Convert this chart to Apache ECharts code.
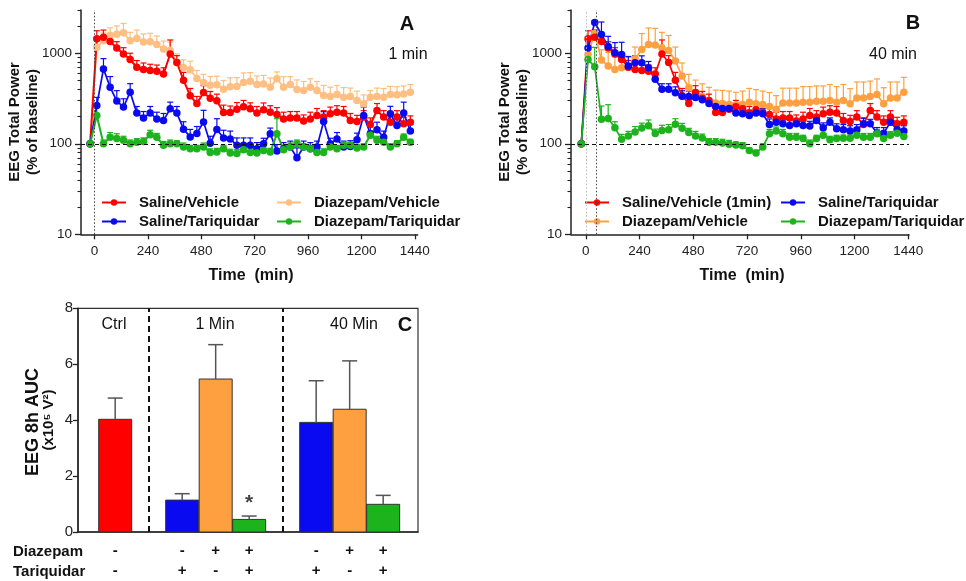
<!DOCTYPE html>
<html><head><meta charset="utf-8">
<script src="https://cdn.jsdelivr.net/npm/echarts@6/dist/echarts.min.js"></script>
<style>html,body{margin:0;padding:0;background:#fff}#c{width:966px;height:581px}</style>
</head><body><div id="c"></div>
<script>
// ---------- DATA ----------
const timeMin = [-20,10,40,70,100,130,160,190,220,250,280,310,340,370,400,430,460,490,520,550,580,610,640,670,700,730,760,790,820,850,880,910,940,970,1000,1030,1060,1090,1120,1150,1180,1210,1240,1270,1300,1330,1360,1390,1420];
const xTickLabels = [0,240,480,720,960,1200,1440];
const yMajorTicks = [10,100,1000];
const yMinorTicks = [20,30,40,50,60,70,80,90,200,300,400,500,600,700,800,900,2000,3000];

// Saline/Vehicle (shared control, panels A and B)
const salVeh = [100, 1440,1500,1350,1140,980,850,700,660,645,630, 590,980,790,504,338,278,368,318,298,222, 221,240,256,243,218,237,223,211,188,192, 192,178,188,205,197,214,223,218,181,176, 197,163,233,197,173,197,166,173];
const salVehErr = [0, 330,300,250,200,170,150,130,120,110,110, 100,420,150,110,70,55,70,60,55,45, 40,45,45,40,40,45,40,40,35,35, 35,30,35,40,35,40,40,40,35,30, 35,30,45,35,30,35,30,30];

// Panel A (1 min)
const dzVehA = [100, 1165,1370,1580,1620,1680,1370,1450,1330,1340,1250, 1110,1080,790,695,655,525,475,443,447,400, 425,428,475,491,451,458,422,521,422,451, 397,387,422,387,341,332,350,327,332,301, 276,327,332,327,350,347,355,371];
const dzVehAErr = [0, 200,300,330,380,450,330,350,300,320,300, 250,250,190,150,160,120,110,110,110,100, 110,110,130,120,110,110,110,100,130,100, 110,100,100,100,100,90,90,90,80,80, 70,60,80,80,80,80,80,80];
const salTarA = [100, 265,671,422,296,254,371,218,192,218,188, 181,243,218,145,119,130,174,101,144,116, 113,96,96,96,88,100,129,83,88,92, 70,92,88,92,176,100,113,92,93,111, 205,129,143,118,214,159,218,138];
const salTarAErr = [0, 60,200,130,90,60,90,40,35,40,35, 35,45,40,30,25,25,60,20,45,25, 25,20,20,20,15,15,20,15,15,15, 20,15,15,15,50,15,20,15,15,20, 50,25,30,20,45,35,70,25];
const dzTarA = [100, 205,100,118,114,109,100,104,106,126,118, 96,100,100,92,88,88,92,80,81,88, 79,78,86,80,79,84,81,129,86,92, 100,92,88,80,80,92,88,96,96,90, 92,124,109,104,92,100,118,104];
const dzTarAErr = [0, 70,10,15,15,12,10,10,10,15,12, 10,10,8,10,8,8,10,8,8,8, 8,8,8,8,8,8,8,60,10,10, 10,8,8,8,8,8,8,8,8,8, 8,15,12,10,8,8,10,8];

// Panel B (40 min)
const salTarB = [100, 1140,2190,1610,1185,1010,970,720,785,785,690, 515,400,400,365,335,332,325,306,278,258, 245,245,218,214,205,218,214,163,173,166, 159,166,159,157,181,150,173,146,143,138, 143,166,166,131,131,173,143,138];
const salTarBErr = [0, 200,100,600,350,300,350,200,150,150,120, 80,60,60,60,50,50,45,45,40,35, 35,35,30,30,30,30,30,25,25,25, 25,20,25,20,25,20,20,20,20,20, 20,25,20,20,20,25,20,20];
const dzVehB = [100, 970,1665,840,720,660,690,700,870,1100,1250, 1230,1150,1070,820,560,415,365,330,300,281, 278,272,270,272,288,276,272,258,240,281, 281,281,288,288,295,295,301,288,301,276, 321,321,332,350,276,321,321,371];
const dzVehBErr = [0, 300,150,250,300,250,200,200,300,550,650, 650,550,500,350,220,170,140,130,120,110, 110,110,100,110,120,120,110,110,100,130, 130,130,140,140,140,140,150,140,150,130, 160,160,160,170,140,160,160,170];
const dzTarB = [100, 850,710,186,190,150,112,122,135,149,158, 130,140,143,164,148,133,122,116,104,104, 102,99,97,95,84,79,92,129,138,129, 118,118,114,100,114,124,111,114,115,115, 124,118,118,129,114,124,131,120];
const dzTarBErr = [0, 100,450,75,80,25,15,15,20,20,25, 15,20,20,25,20,15,15,12,10,10, 10,10,8,8,6,6,8,15,15,15, 12,12,10,10,10,15,10,10,10,10, 12,12,12,15,10,12,15,12];

// Panel C (EEG 8h AUC, x10^5 V^2)
const cGroups = ['Ctrl','1 Min','40 Min'];
const cValues = [4.03, 1.14, 5.47, 0.45, 3.92, 4.39, 0.99];
const cErr = [0.76, 0.23, 1.23, 0.12, 1.49, 1.73, 0.32];
const cDiazepam = ['-','-','+','+','-','+','+'];
const cTariquidar = ['-','+','-','+','+','-','+'];
const cSignificant = [false,false,false,true,false,false,false];

// ---------- STYLE / LAYOUT ----------
const FONT = '"Liberation Sans", Arial, Helvetica, sans-serif';
const RED = '#FF0000', BLUE = '#0A0AF0', GREEN = '#1DB31D', PEACH = '#FFBE82', ORANGE = '#FFA040';
const AX = '#222';
const cPos = [0,2,3,4,6,7,8];           // slot positions of bars
const cColors = [RED, BLUE, ORANGE, GREEN, BLUE, ORANGE, GREEN];

function pairs(vals){ return timeMin.map((t,i)=>[t, vals[i]]); }

function errSeries(xi, yi, vals, errs, color, cap){
  return {
    type:'custom', xAxisIndex:xi, yAxisIndex:yi, silent:true,
    data: timeMin.map((t,i)=>[t, vals[i], vals[i]+errs[i]]),
    renderItem(params, api){
      const x = api.value(0), v = api.value(1), top = api.value(2);
      if (!(top > v)) return null;
      const p0 = api.coord([x, v]), p1 = api.coord([x, top]);
      const st = {stroke: color, lineWidth: 1.2};
      return {type:'group', children:[
        {type:'line', shape:{x1:p0[0], y1:p0[1], x2:p1[0], y2:p1[1]}, style: st},
        {type:'line', shape:{x1:p1[0]-cap, y1:p1[1], x2:p1[0]+cap, y2:p1[1]}, style: st}
      ]};
    }
  };
}
function lineSeries(name, xi, yi, vals, color, extra){
  return Object.assign({
    type:'line', name, xAxisIndex:xi, yAxisIndex:yi, data: pairs(vals),
    symbol:'circle', symbolSize:7.5, showSymbol:true,
    lineStyle:{width:1.7, color}, itemStyle:{color}, emphasis:{disabled:true}
  }, extra || {});
}

const tickFmt = v => String(Math.round(v));
function timeAxis(grid, min, max){
  return {
    gridIndex:grid, type:'value', min, max,
    axisLine:{onZero:false, lineStyle:{color:AX, width:1.5}},
    axisTick:{customValues:xTickLabels, length:5, lineStyle:{color:AX, width:1.3}},
    axisLabel:{customValues:xTickLabels, formatter:tickFmt, fontSize:13.5, color:'#222', fontFamily:FONT, margin:10},
    splitLine:{show:false}
  };
}
function logAxis(grid){
  return {
    gridIndex:grid, type:'log', logBase:10, min:10, max:3000, position:'left',
    axisLine:{onZero:false, lineStyle:{color:AX, width:1.5}},
    axisTick:{customValues:yMajorTicks, length:6, lineStyle:{color:AX, width:1.3}},
    axisLabel:{customValues:yMajorTicks, formatter:tickFmt, fontSize:13.5, color:'#222', fontFamily:FONT, margin:9},
    splitLine:{show:false}
  };
}
function logMinorAxis(grid){
  return {
    gridIndex:grid, type:'log', logBase:10, min:10, max:3000, position:'left', offset:0,
    axisLine:{show:false, onZero:false},
    axisTick:{customValues:yMinorTicks, length:3.5, lineStyle:{color:AX, width:1.1}},
    axisLabel:{show:false}, splitLine:{show:false}
  };
}

const legendText = {fontSize:15, fontWeight:'bold', color:'#111', fontFamily:FONT, padding:[0,0,0,8]};
function legend(left, names, fmt){
  return {left, top:195, orient:'vertical', padding:0, itemGap:4, itemWidth:24, itemHeight:8,
    selectedMode:false, data:names, textStyle:legendText, formatter: fmt || (n=>n)};
}
const stripB = n => n.replace(/^B:/, '');

const series = [
  // Panel A
  errSeries(0,0,dzVehA,dzVehAErr,PEACH,3),
  lineSeries('Diazepam/Vehicle',0,0,dzVehA,PEACH,{markLine:{silent:true, symbol:'none', label:{show:false}, animation:false,
    data:[{yAxis:100, lineStyle:{type:[4,3], color:'#111', width:1.2}}, {xAxis:0, lineStyle:{type:[1.5,2], color:'#444', width:1}}]}}),
  errSeries(0,0,salVeh,salVehErr,RED,3),
  lineSeries('Saline/Vehicle',0,0,salVeh,RED,{lineStyle:{width:2,color:RED}}),
  errSeries(0,0,salTarA,salTarAErr,BLUE,3),
  lineSeries('Saline/Tariquidar',0,0,salTarA,BLUE),
  errSeries(0,0,dzTarA,dzTarAErr,GREEN,3),
  lineSeries('Diazepam/Tariquidar',0,0,dzTarA,GREEN,{lineStyle:{width:2,color:GREEN}}),
  // Panel B
  errSeries(1,2,dzVehB,dzVehBErr,ORANGE,3),
  lineSeries('B:Diazepam/Vehicle',1,2,dzVehB,ORANGE,{markLine:{silent:true, symbol:'none', label:{show:false}, animation:false,
    data:[{yAxis:100, lineStyle:{type:[4,3], color:'#111', width:1.2}},
          {xAxis:0, lineStyle:{type:[1.5,2], color:'#BBB', width:1}},
          {xAxis:45, lineStyle:{type:[1.5,2], color:'#444', width:1}}]}}),
  errSeries(1,2,salVeh,salVehErr,RED,3),
  lineSeries('B:Saline/Vehicle (1min)',1,2,salVeh,RED),
  errSeries(1,2,salTarB,salTarBErr,BLUE,3),
  lineSeries('B:Saline/Tariquidar',1,2,salTarB,BLUE),
  errSeries(1,2,dzTarB,dzTarBErr,GREEN,3),
  lineSeries('B:Diazepam/Tariquidar',1,2,dzTarB,GREEN),
  // Panel C bars
  {
    type:'custom', xAxisIndex:2, yAxisIndex:4, silent:true,
    data: cValues.map((v,i)=>[cPos[i], v, i]),
    renderItem(params, api){
      const x = api.value(0), v = api.value(1), i = api.value(2);
      const p0 = api.coord([x, 0]), p1 = api.coord([x, v]);
      const w = 33;
      return {type:'rect', shape:{x:p0[0]-w/2, y:p1[1], width:w, height:p0[1]-p1[1]},
        style:{fill:cColors[i], stroke:'#333', lineWidth:1}};
    }
  },
  {
    type:'custom', xAxisIndex:2, yAxisIndex:4, silent:true,
    data: cValues.map((v,i)=>[cPos[i], v, v+cErr[i]]),
    renderItem(params, api){
      const x = api.value(0), v = api.value(1), top = api.value(2);
      const p0 = api.coord([x, v]), p1 = api.coord([x, top]);
      const st = {stroke:'#555', lineWidth:1.5};
      return {type:'group', children:[
        {type:'line', shape:{x1:p0[0], y1:p0[1], x2:p1[0], y2:p1[1]}, style:st},
        {type:'line', shape:{x1:p1[0]-7.5, y1:p1[1], x2:p1[0]+7.5, y2:p1[1]}, style:st}
      ]};
    }
  },
  {
    type:'scatter', xAxisIndex:2, yAxisIndex:4, silent:true, symbolSize:0,
    data: cValues.map((v,i)=>[cPos[i], v+cErr[i], cSignificant[i]]).filter(d=>d[2]).map(d=>[d[0],d[1]]),
    label:{show:true, position:'top', distance:2, formatter:'*', fontSize:21, fontWeight:'bold', color:'#111', fontFamily:FONT},
    markLine:{silent:true, symbol:'none', label:{show:false}, animation:false,
      data:[{xAxis:1},{xAxis:5}], lineStyle:{type:[6,4], color:'#111', width:2}}
  }
];

function txt(x, y, text, size, bold, extra){
  return Object.assign({type:'text', x, y, silent:true,
    style:{text, fontSize:size, fontWeight: bold?'bold':'normal', fontFamily:FONT, fill:'#111',
      align:'center', verticalAlign:'middle', lineHeight: size+3}}, extra||{});
}

const option = {
  animation:false,
  backgroundColor:'#fff',
  grid:[
    {left:81, top:10, width:336.7, height:224.3},
    {left:571, top:10, width:338, height:224.3},
    {left:78, top:308.3, width:340, height:224.4, show:true, borderColor:'#333', borderWidth:1.2, backgroundColor:'transparent'}
  ],
  xAxis:[
    timeAxis(0,-61,1453),
    timeAxis(1,-66,1443),
    {gridIndex:2, type:'value', min:-1.11, max:9.04,
      axisLine:{onZero:false, lineStyle:{color:AX, width:1.5}}, axisTick:{show:false},
      axisLabel:{customValues:cPos, fontSize:15, fontWeight:'bold', color:'#111', fontFamily:FONT, lineHeight:20, margin:9,
        formatter: v => { const i = cPos.findIndex(p=>Math.abs(p-v)<1e-6); return i<0 ? '' : cDiazepam[i] + '\n' + cTariquidar[i]; }},
      splitLine:{show:false}}
  ],
  yAxis:[
    logAxis(0), logMinorAxis(0), logAxis(1), logMinorAxis(1),
    {gridIndex:2, type:'value', min:0, max:8, interval:2,
      axisLine:{onZero:false, lineStyle:{color:AX, width:1.5}},
      axisTick:{length:5, lineStyle:{color:AX, width:1.3}},
      axisLabel:{fontSize:15, color:'#222', fontFamily:FONT, margin:5},
      splitLine:{show:false}}
  ],
  legend:[
    legend(101, ['Saline/Vehicle','Saline/Tariquidar']),
    legend(276, ['Diazepam/Vehicle','Diazepam/Tariquidar']),
    legend(584, ['B:Saline/Vehicle (1min)','B:Diazepam/Vehicle'], stripB),
    legend(780, ['B:Saline/Tariquidar','B:Diazepam/Tariquidar'], stripB)
  ],
  series,
  graphic:[
    txt(407, 24, 'A', 20, true),
    txt(408, 55, '1 min', 16, false),
    txt(913, 23, 'B', 20, true),
    txt(893, 55, '40 min', 16, false),
    txt(24, 122, 'EEG Total Power\n(% of baseline)', 15, true, {rotation:Math.PI/2}),
    txt(514, 122, 'EEG Total Power\n(% of baseline)', 15, true, {rotation:Math.PI/2}),
    txt(251, 276, 'Time  (min)', 16, true),
    txt(742, 276, 'Time  (min)', 16, true),
    txt(114, 325, cGroups[0], 16, false),
    txt(215, 325, cGroups[1], 16, false),
    txt(354, 325, cGroups[2], 16, false),
    txt(405, 325, 'C', 20, true),
    txt(33, 422, 'EEG 8h AUC', 18, true, {rotation:Math.PI/2}),
    txt(49, 420, '(x10\u2075 V\u00B2)', 15, true, {rotation:Math.PI/2}),
    txt(13, 552, 'Diazepam', 15, true, {style:{text:'Diazepam', fontSize:15, fontWeight:'bold', fontFamily:FONT, fill:'#111', align:'left', verticalAlign:'middle'}}),
    txt(13, 572, 'Tariquidar', 15, true, {style:{text:'Tariquidar', fontSize:15, fontWeight:'bold', fontFamily:FONT, fill:'#111', align:'left', verticalAlign:'middle'}})
  ]
};

const chart = echarts.init(document.getElementById('c'), null, {renderer:'canvas'});
chart.setOption(option);
</script>
</body></html>
